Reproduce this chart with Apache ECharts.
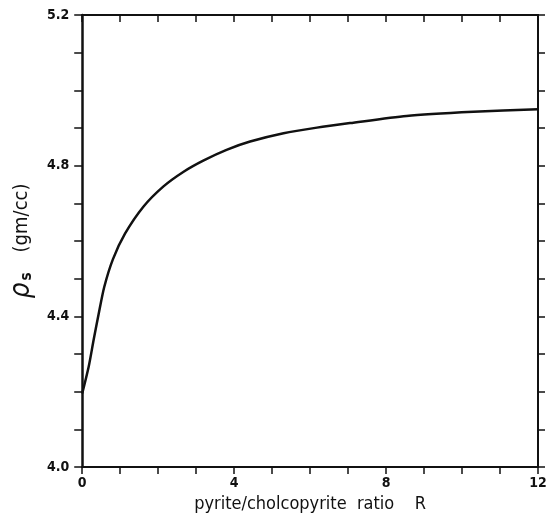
<!DOCTYPE html>
<html>
<head>
<meta charset="utf-8">
<script src="https://cdn.jsdelivr.net/npm/echarts@6/dist/echarts.min.js"></script>
<style>
  html, body { margin: 0; padding: 0; background: #fff; }
  #chart { width: 557px; height: 521px; }
</style>
</head>
<body>
<div id="chart"></div>
<script>
// Pyrite/chalcopyrite ratio R and the resulting solid density (gm/cc)
const ratioR = [0, 0.17, 0.3, 0.43, 0.58, 0.81, 1.13, 1.61, 2.14, 2.67, 3.2, 3.8, 4.42, 5.3, 6.18, 7.05, 8.54, 10.3, 12];
const densityS = [4.195, 4.266, 4.337, 4.405, 4.478, 4.552, 4.620, 4.691, 4.745, 4.784, 4.814, 4.842, 4.864, 4.886, 4.901, 4.913, 4.932, 4.943, 4.950];
const xTickLabels = ['0', '4', '8', '12'];
const yTickLabels = ['4.0', '4.4', '4.8', '5.2'];

const FONT = "'Liberation Sans Narrow', 'DejaVu Sans Condensed', 'Liberation Sans', sans-serif";
const INK = '#111';

const chart = echarts.init(document.getElementById('chart'), null, { renderer: 'canvas' });

const tickStyle = { color: INK, width: 1.5 };
const lineStyle = { color: INK, width: 2 };

chart.setOption({
  backgroundColor: '#fff',
  animation: false,
  grid: { left: 82, right: 19, top: 15, bottom: 54, containLabel: false },
  xAxis: [
    {
      type: 'value', position: 'bottom', min: 0, max: 12, interval: 4,
      axisLine: { show: true, onZero: false, lineStyle: lineStyle },
      axisTick: { show: true, inside: false, length: 7, lineStyle: tickStyle },
      minorTick: { show: true, splitNumber: 4, length: 7, lineStyle: tickStyle },
      splitLine: { show: false },
      axisLabel: {
        margin: 9, color: INK, fontFamily: FONT, fontSize: 14, fontWeight: 'bold',
        formatter: (v) => xTickLabels[Math.round(v / 4)]
      },
      name: 'pyrite/cholcopyrite  ratio    R',
      nameLocation: 'middle', nameGap: 27,
      nameTextStyle: { color: INK, fontFamily: FONT, fontSize: 18 }
    },
    {
      type: 'value', position: 'top', min: 0, max: 12, interval: 4,
      axisLine: { show: true, onZero: false, lineStyle: lineStyle },
      axisTick: { show: true, inside: true, length: 7, lineStyle: tickStyle },
      minorTick: { show: true, splitNumber: 4, length: 7, lineStyle: tickStyle },
      splitLine: { show: false },
      axisLabel: { show: false }
    }
  ],
  yAxis: [
    {
      type: 'value', position: 'left', min: 4.0, max: 5.2, interval: 0.4,
      axisLine: { show: true, onZero: false, lineStyle: { color: INK, width: 2.5 } },
      axisTick: { show: true, inside: false, length: 8, lineStyle: tickStyle },
      minorTick: { show: true, splitNumber: 4, length: 8, lineStyle: tickStyle },
      splitLine: { show: false },
      axisLabel: {
        margin: 13, color: INK, fontFamily: FONT, fontSize: 14, fontWeight: 'bold',
        formatter: (v) => yTickLabels[Math.round((v - 4.0) / 0.4)]
      },
      name: '{rho|ρ}{sub|s}{sp| }{unit|(gm/cc)}',
      nameLocation: 'middle', nameGap: 43, nameRotate: 90,
      nameTextStyle: {
        color: INK, fontFamily: FONT,
        rich: {
          rho: { fontSize: 28, fontStyle: 'italic', fontFamily: FONT, color: INK },
          sub: { fontSize: 15, fontWeight: 'bold', fontFamily: FONT, color: INK, padding: [10, 0, 0, 2] },
          sp: { fontSize: 16, width: 20 },
          unit: { fontSize: 20, fontFamily: FONT, color: INK }
        }
      }
    },
    {
      type: 'value', position: 'right', min: 4.0, max: 5.2, interval: 0.4,
      axisLine: { show: true, onZero: false, lineStyle: lineStyle },
      axisTick: { show: true, inside: false, length: 7, lineStyle: tickStyle },
      minorTick: { show: true, splitNumber: 4, length: 7, lineStyle: tickStyle },
      splitLine: { show: false },
      axisLabel: { show: false }
    }
  ],
  series: [
    {
      type: 'line',
      xAxisIndex: 0, yAxisIndex: 0,
      data: ratioR.map((r, i) => [r, densityS[i]]),
      smooth: 0.25,
      showSymbol: false,
      lineStyle: { color: INK, width: 2.5 }
    }
  ]
});
</script>
</body>
</html>
